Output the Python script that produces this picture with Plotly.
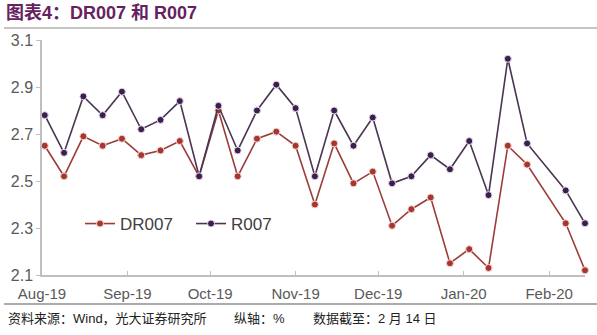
import plotly.graph_objects as go

dates = ["2019-08-02", "2019-08-09", "2019-08-16", "2019-08-23", "2019-08-30",
         "2019-09-06", "2019-09-13", "2019-09-20", "2019-09-27", "2019-10-04",
         "2019-10-11", "2019-10-18", "2019-10-25", "2019-11-01", "2019-11-08",
         "2019-11-15", "2019-11-22", "2019-11-29", "2019-12-06", "2019-12-13",
         "2019-12-20", "2019-12-27", "2020-01-03", "2020-01-10", "2020-01-17",
         "2020-01-24", "2020-02-07", "2020-02-14"]
dr007 = [2.65, 2.52, 2.69, 2.65, 2.68, 2.61, 2.63, 2.67, 2.52, 2.80,
         2.52, 2.68, 2.71, 2.65, 2.40, 2.66, 2.49, 2.54, 2.31, 2.38,
         2.43, 2.15, 2.21, 2.13, 2.65, 2.57, 2.32, 2.12]
r007 = [2.78, 2.62, 2.86, 2.78, 2.88, 2.72, 2.76, 2.84, 2.52, 2.82,
        2.63, 2.80, 2.91, 2.81, 2.52, 2.80, 2.65, 2.77, 2.49, 2.52,
        2.61, 2.55, 2.67, 2.44, 3.02, 2.66, 2.46, 2.32]
tick_dates = ["2019-08-01", "2019-09-01", "2019-10-01", "2019-11-01",
              "2019-12-01", "2020-01-01", "2020-02-01"]
tick_labels = ["Aug-19", "Sep-19", "Oct-19", "Nov-19", "Dec-19", "Jan-20", "Feb-20"]
y_ticks = [2.1, 2.3, 2.5, 2.7, 2.9, 3.1]

RED = "#A8352F"
RED_LINE = "#9A3D38"
PUR = "#3D1F4E"
PUR_LINE = "#4A3553"

fig = go.Figure()
fig.add_trace(go.Scatter(
    x=dates, y=dr007, name="DR007", mode="lines+markers",
    line=dict(color=RED_LINE, width=1.6),
    marker=dict(color=RED, size=7, line=dict(color="#F3D9D6", width=1)),
    cliponaxis=False))
fig.add_trace(go.Scatter(
    x=dates, y=r007, name="R007", mode="lines+markers",
    line=dict(color=PUR_LINE, width=1.6),
    marker=dict(color=PUR, size=7, line=dict(color="#E6DDEB", width=1)),
    cliponaxis=False))

L, R, T, B = 42, 12, 40, 60
W, H = 597, 335
pw, ph = W - L - R, H - T - B

def px_x(px):
    return (px - L) / pw

def px_y(py):
    return (H - B - py) / ph

fig.update_layout(
    width=W, height=H,
    margin=dict(l=L, r=R, t=T, b=B),
    paper_bgcolor="white", plot_bgcolor="white",
    font=dict(family="Liberation Sans, Arial, sans-serif", color="#595959"),
    showlegend=True,
    legend=dict(orientation="h", x=px_x(80), y=px_y(224), xanchor="left", yanchor="middle",
                font=dict(size=17, color="#404040"), bgcolor="rgba(0,0,0,0)",
                entrywidth=66, itemwidth=30),
    xaxis=dict(type="date", range=["2019-08-01", "2020-02-14"],
               tickvals=tick_dates, ticktext=tick_labels,
               showgrid=False, zeroline=False,
               showline=True, linecolor="#BFBFBF", linewidth=1.5,
               ticks="inside", ticklen=4, tickcolor="#BFBFBF",
               ticklabelstandoff=4,
               tickfont=dict(size=15, color="#595959")),
    yaxis=dict(range=[2.1, 3.1], tickvals=y_ticks, ticktext=[f"{v:.1f}" for v in y_ticks],
               showgrid=False, zeroline=False,
               showline=True, linecolor="#BFBFBF", linewidth=1.5,
               ticks="outside", ticklen=4, tickcolor="#BFBFBF",
               tickfont=dict(size=16, color="#595959")),
)

fig.add_annotation(
    text="<b>图表4：DR007 和 R007</b>", xref="paper", yref="paper",
    x=px_x(4), y=px_y(13), xanchor="left", yanchor="middle", showarrow=False,
    font=dict(size=18, color="#66215F",
              family="Liberation Sans, Noto Sans CJK SC, sans-serif"))
fig.add_shape(type="line", xref="paper", yref="paper",
              x0=px_x(4), x1=px_x(597), y0=px_y(28), y1=px_y(28),
              line=dict(color="#8C8C8C", width=1.2))
fig.add_shape(type="line", xref="paper", yref="paper",
              x0=px_x(4), x1=px_x(597), y0=px_y(304), y1=px_y(304),
              line=dict(color="#595959", width=1.2))

foot_font = dict(size=13, color="#222222",
                 family="Liberation Sans, Noto Sans CJK SC, sans-serif")
for txt, xp in [("资料来源：Wind，光大证券研究所", 6),
                ("纵轴：%", 232),
                ("数据截至：2 月 14 日", 311)]:
    fig.add_annotation(text=txt, xref="paper", yref="paper",
                       x=px_x(xp), y=px_y(318), xanchor="left", yanchor="middle",
                       showarrow=False, font=foot_font)

fig.write_html("out.html")
